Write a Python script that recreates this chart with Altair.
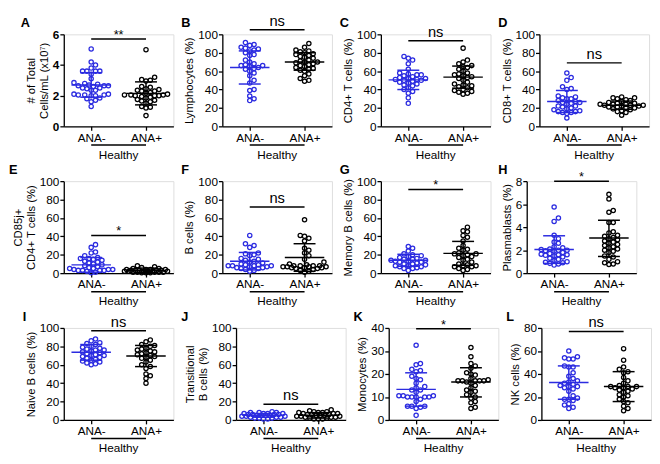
import altair as alt
import pandas as pd
import numpy as np

GROUPS = ["ANA-", "ANA+"]
LETTERS = ["A", "B", "C", "D", "E", "F", "G", "H", "I", "J", "K", "L"]
Y_TITLES = [["# of Total", "Cells/mL (x10⁷)"], "Lymphocytes (%)", "CD4+ T cells (%)", "CD8+ T cells (%)",
            ["CD85j+", "CD4+ T cells (%)"], "B cells (%)", "Memory B cells (%)", "Plasmablasts (%)",
            "Naive B cells (%)", ["Transitional", "B cells (%)"], "Monocytes (%)", "NK cells (%)"]
Y_MAX = [6, 100, 100, 100, 100, 100, 100, 8, 100, 100, 40, 80]
Y_TICKS = [[0, 2, 4, 6], [0, 20, 40, 60, 80, 100], [0, 20, 40, 60, 80, 100], [0, 20, 40, 60, 80, 100],
           [0, 20, 40, 60, 80, 100], [0, 20, 40, 60, 80, 100], [0, 20, 40, 60, 80, 100], [0, 2, 4, 6, 8],
           [0, 20, 40, 60, 80, 100], [0, 20, 40, 60, 80, 100], [0, 10, 20, 30, 40], [0, 20, 40, 60, 80]]
SIG_LABEL = ["**", "ns", "ns", "ns", "*", "ns", "*", "*", "ns", "ns", "*", "ns"]
SIG_Y = [5.7, 105, 93, 69, 41, 72, 91, 8.0, 97, 17, 39.7, 77]

# ANA- (blue) values
A_neg = [5.05, 4.2, 4.0, 3.8, 3.6, 3.6, 3.6, 3.6, 3.4, 3.1, 2.85, 2.8, 2.75, 2.7, 2.65, 2.65, 2.65, 2.6, 2.5, 2.5,
         2.45, 2.35, 2.35, 2.1, 2.1, 2.05, 2.05, 2.05, 2.0, 2.0, 1.85, 1.8, 1.7, 1.6, 1.3]
B_neg = [91, 89, 88, 86, 85, 84, 83, 82, 80, 78, 77, 72, 70, 68, 67, 66, 66, 65, 64, 63, 62, 60, 58, 55, 50, 47,
         40, 39, 33, 30, 28]
C_neg = [76, 74, 72, 68, 62, 58, 57, 56, 56, 55, 54, 53, 52, 52, 51, 51, 50, 50, 49, 48, 47, 46, 45, 44, 42, 40,
         38, 36, 31, 25]
D_neg = [58, 53, 50, 43, 41, 40, 33, 32, 31, 30, 30, 28, 27, 26, 26, 25, 24, 22, 22, 21, 20, 19, 18, 17, 16, 16,
         15, 15, 14, 9]
E_neg = [31, 28, 23, 22, 19, 17, 16, 16, 15, 14, 13, 12, 11, 10, 9, 8, 7, 6, 5, 5, 4, 4, 4, 3, 3, 3, 3, 2, 1, 0.5]
F_neg = [41, 32, 30, 28, 22, 21, 20, 19, 16, 15, 14, 13, 12, 11, 10, 9, 9, 8, 8, 8, 8, 7, 7, 6, 6, 5, 5, 4, 3, 2]
G_neg = [29, 27, 24, 21, 20, 19, 18, 17, 16, 15, 15, 14, 14, 13, 13, 12, 12, 11, 10, 10, 9, 8, 8, 7, 7, 6, 5, 5, 3]
H_neg = [5.75, 4.8, 4.5, 3.3, 3.0, 2.7, 2.6, 2.3, 2.2, 2.1, 2.05, 2.0, 2.0, 1.95, 1.9, 1.8, 1.7, 1.65, 1.6, 1.6,
         1.55, 1.5, 1.4, 1.3, 1.2, 1.1, 1.0, 0.95, 0.9, 0.85, 0.8, 0.7]
I_neg = [88, 86, 84, 83, 82, 80, 79, 78, 77, 76, 76, 75, 74, 73, 72, 71, 70, 70, 69, 68, 67, 66, 65, 64, 63, 62,
         61, 60]
J_neg = [9, 8, 8, 8, 7, 7, 7, 7, 6, 6, 6, 6, 5, 5, 5, 5, 4, 4, 4, 3, 3, 3, 2, 2, 2, 1, 1]
K_neg = [32.5, 24.5, 24, 22, 21.5, 21, 19, 18, 17.5, 16, 14.5, 14, 13, 13, 12, 10.5, 10.5, 10.5, 10, 10, 10, 10,
         10, 9, 8, 6, 6, 6, 5.5, 5, 2]
L_neg = [60, 55, 54, 53, 53, 47, 46, 46, 41, 38, 36, 34, 33, 32, 31, 30, 29, 29, 28, 27, 25, 21, 19, 18, 18, 17,
         14, 13, 11, 10]

# ANA+ (black) values
A_pos = [5.0, 3.2, 3.05, 3.0, 2.95, 2.6, 2.55, 2.45, 2.4, 2.35, 2.3, 2.3, 2.2, 2.15, 2.1, 2.05, 2.05, 2.05, 2.0,
         2.0, 2.0, 1.95, 1.9, 1.85, 1.75, 1.7, 1.65, 1.6, 1.5, 1.3, 1.25, 1.2, 0.7]
B_pos = [90, 86, 83, 82, 81, 80, 79, 78, 77, 76, 75, 74, 72, 71, 70, 70, 69, 68, 67, 66, 65, 64, 63, 62, 61, 60,
         57, 55, 52, 50, 49]
C_pos = [85, 72, 70, 68, 66, 65, 64, 62, 60, 58, 57, 56, 55, 54, 53, 52, 50, 48, 46, 45, 44, 43, 42, 40, 39, 38,
         37, 36, 35]
D_pos = [32, 31, 31, 30, 29, 28, 27, 26, 25, 25, 24, 24, 24, 23, 23, 23, 22, 22, 21, 21, 20, 20, 19, 18, 17, 16,
         15, 12]
E_pos = [8, 7, 6, 5, 5, 4, 4, 4, 4, 3, 3, 3, 3, 3, 2, 2, 2, 2, 2, 2, 1, 1, 1, 1, 1, 0.5, 0.5, 0.5]
F_pos = [58, 41, 40, 38, 35, 27, 25, 22, 19, 15, 12, 10, 9, 8, 8, 8, 8, 7, 7, 7, 7, 6, 6, 6, 5, 5, 4, 3, 2, 1]
G_pos = [50, 46, 45, 41, 39, 35, 30, 27, 26, 25, 22, 21, 21, 20, 19, 18, 17, 15, 14, 12, 10, 9, 8, 8, 7, 7, 5, 4, 3]
H_pos = [6.85, 6.45, 5.45, 5.3, 4.4, 4.4, 3.6, 3.5, 3.3, 3.2, 3.1, 3.0, 2.9, 2.8, 2.7, 2.6, 2.5, 2.4, 2.3, 2.2,
         2.1, 2.0, 1.9, 1.8, 1.5, 1.4, 1.2, 1.0, 0.9, 0.8, 0.75]
I_pos = [87, 85, 82, 81, 80, 78, 77, 76, 75, 74, 73, 72, 71, 70, 69, 68, 67, 65, 63, 60, 58, 56, 50, 48, 45, 40]
J_pos = [11, 10, 9, 9, 8, 8, 8, 7, 7, 7, 6, 6, 6, 5, 5, 5, 4, 4, 4, 3, 3, 3, 2, 2, 1, 1, 1]
K_pos = [31.5, 27.5, 24.5, 23.5, 22.5, 20.5, 20, 19.5, 18, 17.5, 17, 17, 17, 17, 17, 16.5, 16, 15, 14, 13, 12.5,
         12, 11, 10, 9.5, 8, 7.5, 5.5, 5]
L_pos = [62, 52, 46, 44, 42, 41, 37, 34, 32, 30, 29, 29, 29, 28, 28, 27, 26, 25, 24, 22, 21, 20, 18, 16, 15, 12,
         10, 8]

NEG = [A_neg, B_neg, C_neg, D_neg, E_neg, F_neg, G_neg, H_neg, I_neg, J_neg, K_neg, L_neg]
POS = [A_pos, B_pos, C_pos, D_pos, E_pos, F_pos, G_pos, H_pos, I_pos, J_pos, K_pos, L_pos]

# mean, upper SD, lower SD as drawn
MEAN_NEG = [2.7, 64, 50.5, 27, 9, 13, 14, 2.05, 73.5, 5, 13.3, 32.5]
HI_NEG = [3.5, 82, 61, 39, 17, 22.5, 20.5, 3.25, 82, 7, 20.5, 47]
LO_NEG = [1.9, 46, 40, 15, 1, 3.5, 7.5, 0.85, 65, 3, 6, 18]
MEAN_POS = [2.15, 70, 53.5, 23, 3, 17, 21.5, 3.05, 69.5, 5, 16.5, 29]
HI_POS = [2.9, 80, 65.5, 27.5, 5.5, 32, 34.5, 4.6, 81, 8, 22.7, 42]
LO_POS = [1.4, 61, 41.5, 18.5, 0.5, 2, 8.5, 1.45, 58, 2, 10, 16]

BLUE = "#2b2be0"
W, H = 112, 94
FONT = "Liberation Sans"
XPX = W / 2.0
# left offset of the panel letter (pixels from the plot's left edge)
LETTER_X = [-44, -42, -42, -42, -56, -42, -42, -29, -42, -56, -36, -36]


def swarm(values, center, ypx, d=4.4, maxw=23.0):
    placed = []
    out = [0.0] * len(values)
    order = sorted(range(len(values)), key=lambda i: values[i])
    cands = [0.0]
    j = 1
    while j * d * 0.5 <= maxw:
        cands += [j * d * 0.5, -j * d * 0.5]
        j += 1
    for i in order:
        y = values[i] * ypx
        best, best_d = 0.0, -1.0
        chosen = None
        for c in cands:
            md = min([((c - px) ** 2 + (y - py) ** 2) for px, py in placed] or [1e9])
            if md >= d * d:
                chosen = c
                break
            if md > best_d:
                best, best_d = c, md
        if chosen is None:
            chosen = best
        placed.append((chosen, y))
        out[i] = center + chosen / XPX
    return out


color = alt.Color("grp:N", scale=alt.Scale(domain=GROUPS, range=[BLUE, "black"]), legend=None)


def panel(k):
    ymax = Y_MAX[k]
    ypx = H / ymax
    rows = []
    for g, vals in enumerate([NEG[k], POS[k]]):
        xs = swarm(vals, g, ypx)
        for x, v in zip(xs, vals):
            rows.append({"x": x, "y": v, "grp": GROUPS[g]})
    pts = pd.DataFrame(rows)

    xscale = alt.Scale(domain=[-0.5, 1.5], nice=False, zero=False)
    yscale = alt.Scale(domain=[0, ymax], nice=False, zero=False)
    xaxis = alt.Axis(values=[0, 1], labelExpr="datum.value == 0 ? 'ANA-' : 'ANA+'",
                     grid=False, tickSize=4, labelFontSize=12, labelPadding=2,
                     domainColor="black", tickColor="black", labelColor="black",
                     domainWidth=1.3, tickWidth=1.3, labelFont=FONT, title=None)
    yaxis = alt.Axis(values=Y_TICKS[k], grid=False, tickSize=4, labelFontSize=12,
                     labelPadding=1, domainColor="black", tickColor="black",
                     labelColor="black", titleColor="black", domainWidth=1.3,
                     tickWidth=1.3, titleFontSize=11.5, titleFontWeight="normal",
                     titlePadding=3, labelFont=FONT, titleFont=FONT, labelOverlap=False,
                     labelFontWeight="bold" if k == 0 else "normal", title=Y_TITLES[k])

    def X(f):
        return alt.X(f, scale=xscale, axis=xaxis)

    def Y(f):
        return alt.Y(f, scale=yscale, axis=yaxis)

    points = alt.Chart(pts).mark_point(filled=False, size=19, strokeWidth=1.3, opacity=1).encode(
        x=X("x:Q"), y=Y("y:Q"), color=color)

    stats = pd.DataFrame({
        "grp": GROUPS,
        "g": [0, 1],
        "mean": [MEAN_NEG[k], MEAN_POS[k]],
        "hi": [HI_NEG[k], HI_POS[k]],
        "lo": [LO_NEG[k], LO_POS[k]],
    })
    stats["ml"] = stats["g"] - 0.36
    stats["mr"] = stats["g"] + 0.36
    stats["cl"] = stats["g"] - 0.2
    stats["cr"] = stats["g"] + 0.2

    base = alt.Chart(stats)
    mean_line = base.mark_rule(strokeWidth=1.5).encode(
        x=X("ml:Q"), x2="mr:Q", y=Y("mean:Q"), color=color)
    cap_hi = base.mark_rule(strokeWidth=1.5).encode(
        x=X("cl:Q"), x2="cr:Q", y=Y("hi:Q"), color=color)
    cap_lo = base.mark_rule(strokeWidth=1.5).encode(
        x=X("cl:Q"), x2="cr:Q", y=Y("lo:Q"), color=color)
    vert = base.mark_rule(strokeWidth=1.5).encode(
        x=X("g:Q"), y=Y("lo:Q"), y2="hi:Q", color=color)

    sig = pd.DataFrame({"x": [0.0], "x2": [1.0], "xm": [0.5], "y": [SIG_Y[k]], "lab": [SIG_LABEL[k]]})
    sig_bar = alt.Chart(sig).mark_rule(strokeWidth=1.5, color="black", clip=False).encode(
        x=X("x:Q"), x2="x2:Q", y=Y("y:Q"))
    is_ns = SIG_LABEL[k] == "ns"
    sig_txt = alt.Chart(sig).mark_text(
        baseline="bottom", dy=(-1 if is_ns else 3), fontSize=(15 if is_ns else 13),
        font=FONT, color="black", clip=False).encode(
        x=X("xm:Q"), y=Y("y:Q"), text="lab:N")

    hb = pd.DataFrame({"x": [0.0], "x2": [1.0], "xm": [0.5], "lab": ["Healthy"]})
    h_bar = alt.Chart(hb).mark_rule(strokeWidth=1.5, color="black").encode(
        x=X("x:Q"), x2="x2:Q", y=alt.value(H + 19))
    h_txt = alt.Chart(hb).mark_text(baseline="middle", fontSize=12, font=FONT, color="black").encode(
        x=X("xm:Q"), y=alt.value(H + 29), text="lab:N")

    lt = pd.DataFrame({"lab": [LETTERS[k]]})
    letter = alt.Chart(lt).mark_text(fontSize=13, fontWeight="bold", font=FONT, color="black",
                                     align="left", baseline="bottom").encode(
        x=alt.value(LETTER_X[k]), y=alt.value(-4), text="lab:N")

    return alt.layer(points, mean_line, cap_hi, cap_lo, vert, sig_bar, sig_txt, h_bar, h_txt,
                     letter).properties(width=W, height=H)


rows = []
for r in range(3):
    rows.append(alt.hconcat(*[panel(r * 4 + c) for c in range(4)], spacing=6))

chart = alt.vconcat(*rows, spacing=2).configure_view(stroke=None).configure(
    font=FONT, background="white", padding=0)

chart.save("out.html", embed_options={"renderer": "svg", "actions": False})
